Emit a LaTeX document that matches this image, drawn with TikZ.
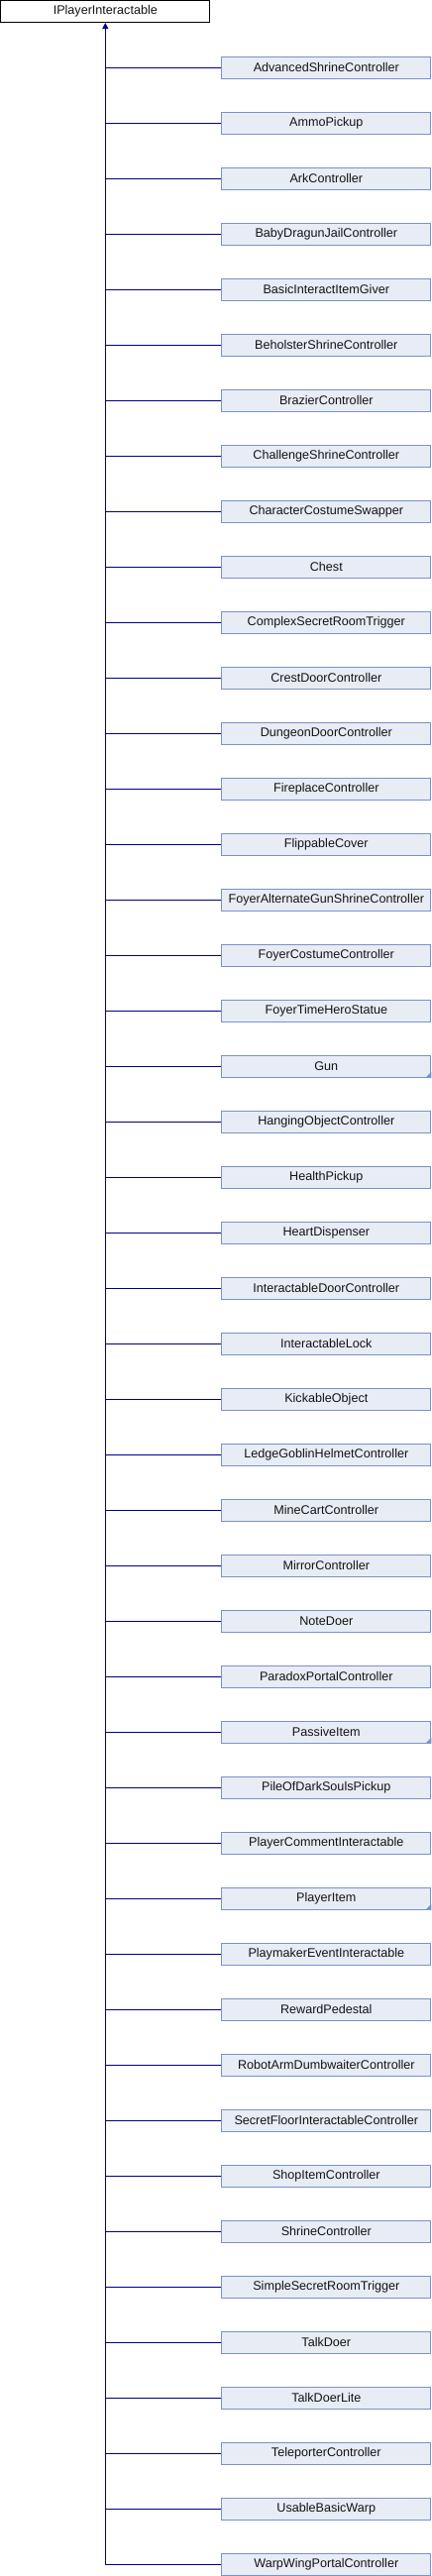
\documentclass[tikz,border=0pt]{standalone}
\usepackage{fontspec}
\setmainfont{Liberation Sans}
\usetikzlibrary{arrows.meta}
\definecolor{boxfill}{RGB}{232,236,245}
\definecolor{boxdraw}{RGB}{122,146,200}
\definecolor{edgecol}{RGB}{0,0,140}
\definecolor{textcol}{RGB}{20,20,20}
\begin{document}
\begin{tikzpicture}[x=1pt,y=-1pt,
  base/.style={minimum width=211pt, minimum height=22pt, inner sep=0pt,
    font=\fontsize{12.6}{14}\selectfont, text=textcol, line width=1pt},
  rootbox/.style={base, draw=black, fill=white},
  childbox/.style={base, draw=boxdraw, fill=boxfill},
  link/.style={draw=edgecol, line width=1pt},
  corner/.style={fill=boxdraw}]
\useasboundingbox (0,0) rectangle (436,2600);
\node[rootbox] (root) at (106.3,11.5) {IPlayerInteractable};
\foreach \name [count=\i from 0] in {AdvancedShrineController,AmmoPickup,ArkController,BabyDragunJailController,BasicInteractItemGiver,BeholsterShrineController,BrazierController,ChallengeShrineController,CharacterCostumeSwapper,Chest,ComplexSecretRoomTrigger,CrestDoorController,DungeonDoorController,FireplaceController,FlippableCover,FoyerAlternateGunShrineController,FoyerCostumeController,FoyerTimeHeroStatue,Gun,HangingObjectController,HealthPickup,HeartDispenser,InteractableDoorController,InteractableLock,KickableObject,LedgeGoblinHelmetController,MineCartController,MirrorController,NoteDoer,ParadoxPortalController,PassiveItem,PileOfDarkSoulsPickup,PlayerCommentInteractable,PlayerItem,PlaymakerEventInteractable,RewardPedestal,RobotArmDumbwaiterController,SecretFloorInteractableController,ShopItemController,ShrineController,SimpleSecretRoomTrigger,TalkDoer,TalkDoerLite,TeleporterController,UsableBasicWarp,WarpWingPortalController} {
  \node[childbox] (c\i) at (329.3, 68.3+56*\i) {\name};
  \draw[link] (c\i.west) -- (root.south |- c\i.west);
}
\foreach \k in {18,30,33} {
  \fill[corner] (c\k.south east) -- ++(-6,0) -- ++(6,-6) -- cycle;
}
\draw[link, -{Triangle[length=6pt,width=6pt]}] (root.south |- c45.west) -- (root.south);
\end{tikzpicture}
\end{document}
